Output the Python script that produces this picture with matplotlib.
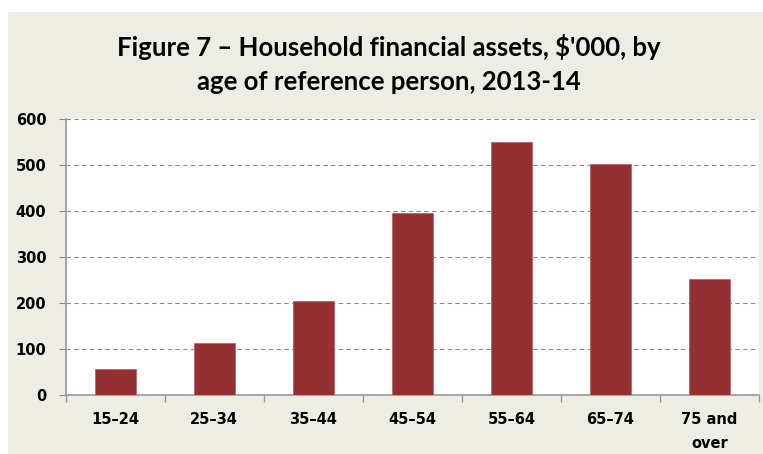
import matplotlib
matplotlib.use("Agg")
import matplotlib.pyplot as plt
from matplotlib.patches import Rectangle
import numpy as np

# household financial assets by age group, $'000
age_groups = ["15\u201324", "25\u201334", "35\u201344", "45\u201354",
              "55\u201364", "65\u201374", "75 and\nover"]
assets = [56, 114, 204, 396, 549, 502, 251]
y_ticks = [0, 100, 200, 300, 400, 500, 600]

BAR = "#943032"
BEIGE = "#eeede3"
GRID = "#8c8c8c"

fig = plt.figure(figsize=(7.63, 4.54), dpi=100, facecolor="white")
fig.patches.append(Rectangle((8 / 763, 0), 1, (454 - 12) / 454,
                             transform=fig.transFigure, facecolor=BEIGE,
                             edgecolor="none", zorder=-5))

ax = fig.add_axes([65.7 / 763, 59 / 454, 693.3 / 763, 276.3 / 454])
ax.set_zorder(2)
ax.set_facecolor("white")

x = np.arange(len(age_groups))
ax.bar(x, assets, width=0.41, color=BAR, edgecolor="#b86466",
       linewidth=0.6, zorder=3)

ax.set_xlim(-0.5, len(age_groups) - 0.5)
ax.set_ylim(0, 600)
ax.set_yticks(y_ticks)
ax.set_yticklabels([str(v) for v in y_ticks], fontsize=10.5, fontweight="bold")
ax.yaxis.grid(True, color=GRID, linestyle=(0, (4, 3)), linewidth=0.8)
ax.set_axisbelow(True)

# tick marks at category boundaries, labels at centres
ax.set_xticks(np.arange(-0.5, len(age_groups), 1.0))
ax.set_xticklabels([])
ax.set_xticks(x, minor=True)
ax.set_xticklabels(age_groups, minor=True, fontsize=10.5, fontweight="bold",
                   linespacing=1.75, va="top")
ax.tick_params(axis="x", which="minor", length=0, pad=12)
ax.tick_params(axis="x", which="major", length=5, color="#999999", width=1)
ax.tick_params(axis="y", length=5, color=GRID, width=0.8, pad=9)

for side in ("top", "right"):
    ax.spines[side].set_visible(False)
for side in ("left", "bottom"):
    ax.spines[side].set_color("#999999")
    ax.spines[side].set_linewidth(1.2)

fig.text(389 / 763, 1 - 47 / 454,
         "Figure 7 \u2013 Household financial assets, $'000, by",
         ha="center", va="center", fontsize=18.5, fontweight="bold",
         family="Lato")
fig.text(389 / 763, 1 - 82 / 454, "age of reference person, 2013-14",
         ha="center", va="center", fontsize=18.5, fontweight="bold",
         family="Lato")

fig.savefig("out.png", dpi=100, facecolor=fig.get_facecolor())
